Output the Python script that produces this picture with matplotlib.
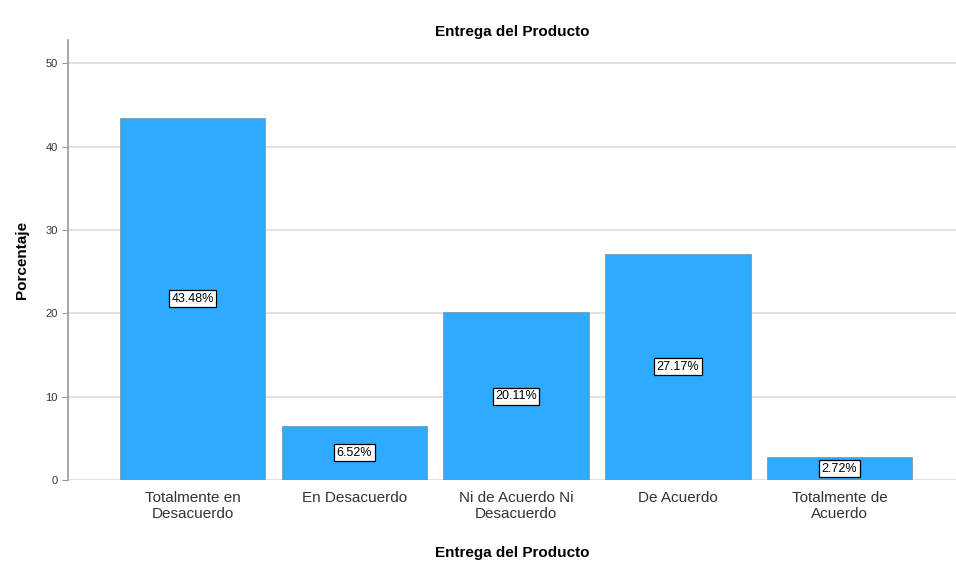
import matplotlib
matplotlib.use("Agg")
import matplotlib.pyplot as plt

categories = ["Totalmente en\nDesacuerdo", "En Desacuerdo", "Ni de Acuerdo Ni\nDesacuerdo", "De Acuerdo", "Totalmente de\nAcuerdo"]
values = [43.48, 6.52, 20.11, 27.17, 2.72]
yticks = [0, 10, 20, 30, 40, 50]

plt.rcParams['font.family'] = ['Liberation Sans', 'DejaVu Sans']
fig = plt.figure(figsize=(9.56, 5.62), dpi=100)
ax = fig.add_axes([68/956, 1-480/562, (956-68)/956, (480-40)/562])

x = list(range(len(categories)))
bars = ax.bar(x, values, width=0.9, color="#2EAAFF", edgecolor="#7a9ab0", linewidth=0.6, zorder=3)
for xi, v in zip(x, values):
    ax.text(xi, v/2, f"{v:.2f}%", ha="center", va="center", fontsize=9, zorder=4,
            bbox=dict(boxstyle="square,pad=0.2", facecolor="white", edgecolor="black", linewidth=0.9))

ax.set_xlim(-0.77, 4.72)
ax.set_ylim(0, 52.8)
ax.set_yticks(yticks)
ax.set_yticklabels([str(t) for t in yticks], fontsize=8, color="#333333")
ax.set_xticks(x)
ax.set_xticklabels(categories, fontsize=11, color="#333333")
ax.yaxis.grid(True, color="#dddddd", linewidth=1.2, zorder=0)
ax.set_axisbelow(True)
for s in ["top", "right"]:
    ax.spines[s].set_visible(False)
ax.spines["left"].set_color("#999999")
ax.spines["left"].set_linewidth(1.2)
ax.spines["bottom"].set_visible(False)
ax.tick_params(axis="x", length=0, pad=8)
ax.tick_params(axis="y", length=4, color="#999999", direction="out")
ax.set_ylabel("Porcentaje", fontsize=11, fontweight="bold", labelpad=12)
ax.set_xlabel("Entrega del Producto", fontsize=11, fontweight="bold", labelpad=18)
ax.set_title("Entrega del Producto", fontsize=11, fontweight="bold", pad=3)

fig.savefig("out.png", dpi=100)
